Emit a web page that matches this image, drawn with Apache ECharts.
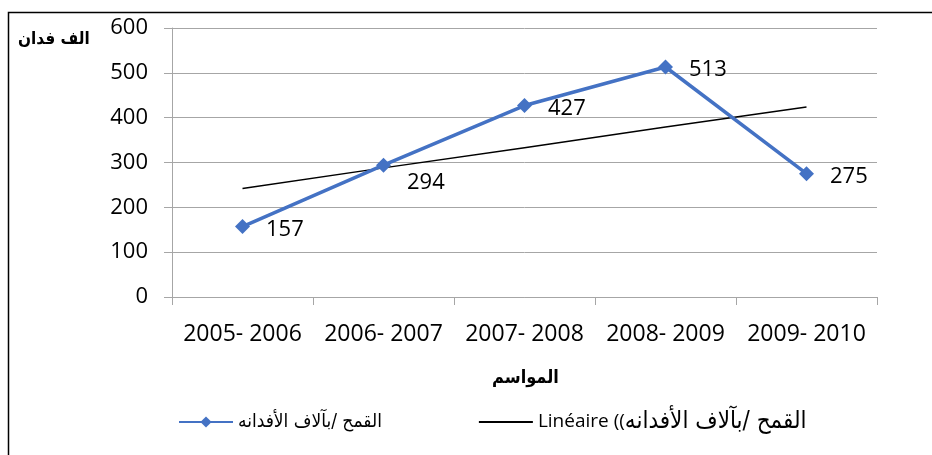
<!DOCTYPE html>
<html>
<head>
<meta charset="utf-8">
<script src="https://cdn.jsdelivr.net/npm/echarts@6/dist/echarts.min.js"></script>
<style>
  html, body { margin: 0; padding: 0; background: #fff; }
  #main { width: 932px; height: 455px; }
</style>
</head>
<body>
<div id="main"></div>
<script>
// المواسم
var seasons = ['2005- 2006', '2006- 2007', '2007- 2008', '2008- 2009', '2009- 2010'];
// القمح بآلاف الأفدنة
var wheat = [157, 294, 427, 513, 275];
// trend line
var trend = [242, 288, 333, 379, 424];
var yTicks = [0, 100, 200, 300, 400, 500, 600];

var wheatName = 'القمح /بآلاف الأفدانه';
var trendName = 'Linéaire ((القمح /بآلاف الأفدانه';

var font = '"Open Sans", "DejaVu Sans", sans-serif';
var arabicFont = '"DejaVu Sans Condensed", "DejaVu Sans", sans-serif';

var chart = echarts.init(document.getElementById('main'));

var wheatData = wheat.map(function (v, i) {
  var item = { value: v };
  if (i === 1) item.label = { offset: [0, 18] };
  return item;
});

var option = {
  animation: false,
  textStyle: { fontFamily: font },
  grid: { left: 172, right: 55, top: 28, bottom: 158 },
  graphic: [
    {
      type: 'rect',
      shape: { x: 8.5, y: 12.5, width: 1000, height: 600 },
      style: { fill: 'none', stroke: '#000', lineWidth: 1.5 },
      silent: true
    },
    {
      type: 'text',
      left: 18, top: 31,
      style: { text: 'الف فدان', font: 'bold 17px ' + arabicFont, fill: '#000' }
    },
    {
      type: 'text',
      left: 492, top: 369,
      style: { text: 'المواسم', font: 'bold 18px ' + arabicFont, fill: '#000' }
    }
  ],
  legend: {
    left: 173,
    top: 405,
    itemWidth: 54,
    itemHeight: 14,
    itemGap: 96,
    textStyle: {
      fontSize: 17, color: '#000', fontFamily: font,
      rich: {
        ar: { fontSize: 19, fontFamily: arabicFont, color: '#000' },
        arBig: { fontSize: 24, fontFamily: arabicFont, color: '#000' },
        lat: { fontSize: 19, fontFamily: font, color: '#000' }
      }
    },
    formatter: function (name) {
      if (name === trendName) return '{lat|Linéaire ((}{arBig|' + wheatName + '}';
      return '{ar|' + name + '}';
    },
    data: [
      { name: wheatName },
      { name: trendName, itemStyle: { opacity: 0 } }
    ]
  },
  xAxis: {
    type: 'category',
    data: seasons,
    boundaryGap: true,
    axisLine: { lineStyle: { color: '#a6a6a6', width: 1 } },
    axisTick: { show: true, length: 8, lineStyle: { color: '#a6a6a6' } },
    axisLabel: { fontSize: 23, color: '#000', margin: 26, fontFamily: font, interval: 0 }
  },
  yAxis: {
    type: 'value',
    min: 0, max: 600, interval: 100,
    axisLine: { show: true, lineStyle: { color: '#a6a6a6', width: 1 } },
    axisTick: { show: true, length: 8, lineStyle: { color: '#a6a6a6' } },
    splitLine: { lineStyle: { color: '#a6a6a6', width: 1 } },
    axisLabel: {
      fontSize: 22, color: '#000', margin: 24, fontFamily: font,
      formatter: function (v) { return yTicks.indexOf(v) >= 0 ? String(v) : ''; }
    }
  },
  series: [
    {
      name: wheatName,
      type: 'line',
      data: wheatData,
      symbol: 'diamond',
      symbolSize: 15,
      lineStyle: { color: '#4472c4', width: 3.5 },
      itemStyle: { color: '#4472c4' },
      label: {
        show: true,
        position: 'right',
        distance: 16,
        offset: [0, 3],
        fontSize: 22,
        color: '#000',
        fontFamily: font
      },
      z: 3
    },
    {
      name: trendName,
      type: 'line',
      data: trend,
      symbol: 'none',
      lineStyle: { color: '#000', width: 1.5 },
      itemStyle: { color: '#000' },
      z: 2
    }
  ]
};

chart.setOption(option);
</script>
</body>
</html>
